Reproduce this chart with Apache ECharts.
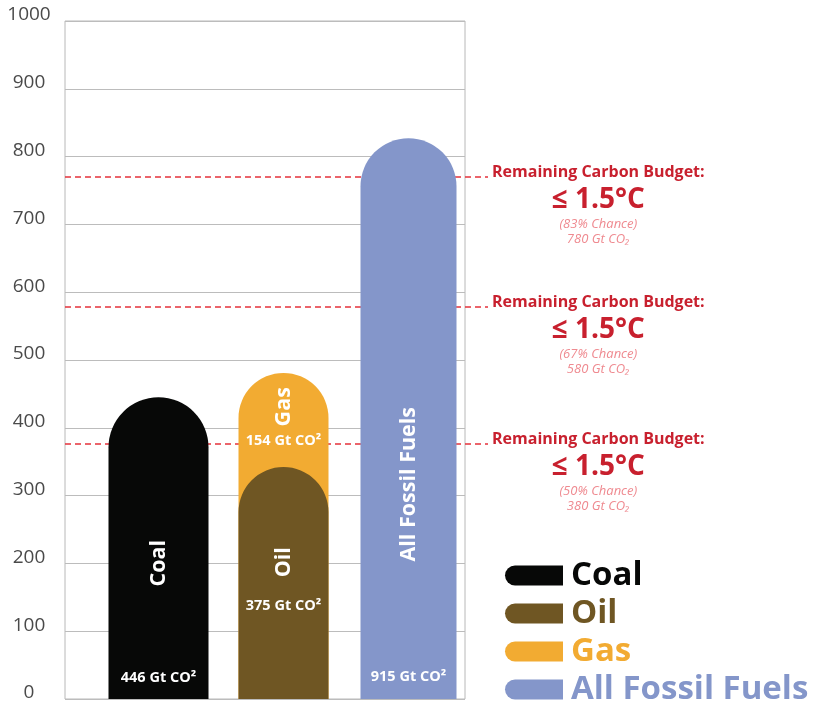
<!DOCTYPE html>
<html><head><meta charset="utf-8">
<script src="https://cdn.jsdelivr.net/npm/echarts@6/dist/echarts.min.js"></script>
<style>html,body{margin:0;padding:0;background:#fff}#c{width:825px;height:702px}</style>
</head><body><div id="c"></div>
<script>
// ---- data ----
const categories = ['Coal', 'Oil & Gas', 'All Fossil Fuels'];
const coalValues = [445, '-', '-'];
const oilValues = ['-', 342, '-'];
const gasValues = ['-', 481, '-'];
const allFossilValues = ['-', '-', 827];
const seriesNames = ['Coal', 'Oil', 'Gas', 'All Fossil Fuels'];
const valueLabels = ['446 Gt CO²', '375 Gt CO²', '154 Gt CO²', '915 Gt CO²']; // coal, oil, gas, all
const budgetLines = [770, 578, 376];
const budgetChance = ['(83% Chance)', '(67% Chance)', '(50% Chance)'];
const budgetAmount = ['780 Gt CO₂', '580 Gt CO₂', '380 Gt CO₂'];
const yMin = 0, yMax = 1000, yStep = 100;

// ---- styles ----
const FONT = '"Open Sans", "Noto Sans", sans-serif';
const C = { coal: '#070807', oil: '#6f5623', gas: '#f2ab32', all: '#8496ca' };
const RED = '#c8202e', RED_LINE = '#e5323b', PINK = '#ef8a90';

function nameLabel(text, posY) {
  return { show: true, formatter: text, rotate: 90, position: ['50%', posY],
    align: 'center', verticalAlign: 'middle', color: '#fff', fontFamily: FONT,
    fontWeight: 'bold', fontSize: 21.5 };
}
function valLabel(text, posY) {
  return { show: true, formatter: text, position: ['50%', posY],
    align: 'center', verticalAlign: 'middle', color: '#fff', fontFamily: FONT,
    fontWeight: 'bold', fontSize: 14.5 };
}
const noEmph = { disabled: true };
const clear = { color: 'rgba(0,0,0,0)' };
const dashStyle = { color: RED_LINE, type: [6, 4], width: 1.5, opacity: 1 };

const chart = echarts.init(document.getElementById('c'), null, { renderer: 'canvas' });
chart.setOption({
  animation: false,
  backgroundColor: '#fff',
  grid: [
    { left: 65, right: 360, top: 21, bottom: 3, show: true, borderColor: '#b8b8b8', borderWidth: 1, outerBoundsMode: 'none', containLabel: false },
    { left: 96, right: 354, top: 21, bottom: 3, outerBoundsMode: 'none', containLabel: false },
    { left: 65, right: 337, top: 21, bottom: 3, outerBoundsMode: 'none', containLabel: false }
  ],
  xAxis: [
    { gridIndex: 0, type: 'category', data: categories, show: false },
    { gridIndex: 1, type: 'category', data: categories, show: false },
    { gridIndex: 1, type: 'category', data: categories, show: false },
    { gridIndex: 1, type: 'category', data: categories, show: false },
    { gridIndex: 2, type: 'value', min: 0, max: 1, show: false }
  ],
  yAxis: [
    { gridIndex: 0, type: 'value', min: yMin, max: yMax, interval: yStep,
      axisLine: { show: false }, axisTick: { show: false },
      splitLine: { lineStyle: { color: '#bcbcbc', width: 1 } },
      axisLabel: { margin: 36, align: 'center', verticalAlign: 'bottom', lineHeight: 12,
        formatter: v => String(v),
        color: '#4a4a4a', fontSize: 19, fontFamily: FONT } },
    { gridIndex: 1, type: 'value', min: yMin, max: yMax, show: false },
    { gridIndex: 2, type: 'value', min: yMin, max: yMax, show: false }
  ],
  legend: {
    orient: 'vertical', left: 500, top: 554, height: 160, itemWidth: 58, itemHeight: 20, itemGap: 5,
    selectedMode: false,
    icon: 'path://M10,0H58V20H10A10,10,0,0,1,10,0Z',
    textStyle: { fontFamily: FONT, fontWeight: 'bold', fontSize: 33, lineHeight: 33, padding: [0, 0, 0, 3] },
    data: [
      { name: seriesNames[0], textStyle: { color: C.coal } },
      { name: seriesNames[1], textStyle: { color: C.oil } },
      { name: seriesNames[2], textStyle: { color: C.gas } },
      { name: seriesNames[3], textStyle: { color: C.all } }
    ]
  },
  series: [
    // budget lines (behind bars)
    { name: 'budget', type: 'line', xAxisIndex: 4, yAxisIndex: 2, data: [], showSymbol: false, z: 1,
      color: RED_LINE, lineStyle: { color: RED_LINE },
      markLine: {
        silent: true, symbol: 'none', animation: false, z: 1,
        lineStyle: dashStyle,
        emphasis: { disabled: true },
        data: budgetLines.map((v, i) => ({
          yAxis: v,
          lineStyle: dashStyle,
          label: {
            show: true, position: 'end', distance: 4, padding: [54, 0, 0, 0],
            formatter: '{t|Remaining Carbon Budget:}\n{b|≤ 1.5°C}\n{s|' + budgetChance[i] + '}\n{s|' + budgetAmount[i] + '}',
            rich: {
              t: { color: RED, fontFamily: FONT, fontWeight: 'bold', fontSize: 16, lineHeight: 22, align: 'center' },
              b: { color: RED, fontFamily: FONT, fontWeight: 'bold', fontSize: 28, lineHeight: 34, align: 'center' },
              s: { color: PINK, fontFamily: FONT, fontStyle: 'italic', fontSize: 13, lineHeight: 15, align: 'center' }
            }
          }
        }))
      }
    },
    { name: seriesNames[0], type: 'bar', xAxisIndex: 1, yAxisIndex: 1, data: coalValues, z: 3,
      barWidth: 100, barGap: '-100%', emphasis: noEmph,
      itemStyle: { color: C.coal, borderRadius: [50, 50, 0, 0] }, label: nameLabel('Coal', '55%') },
    { name: seriesNames[2], type: 'bar', xAxisIndex: 2, yAxisIndex: 1, data: gasValues, z: 3,
      barWidth: 90, barGap: '-100%', emphasis: noEmph,
      itemStyle: { color: C.gas, borderRadius: [45, 45, 0, 0] }, label: nameLabel('Gas', '10.4%') },
    { name: seriesNames[1], type: 'bar', xAxisIndex: 2, yAxisIndex: 1, data: oilValues, z: 3,
      barWidth: 90, barGap: '-100%', emphasis: noEmph,
      itemStyle: { color: C.oil, borderRadius: [45, 45, 0, 0] }, label: nameLabel('Oil', '41%') },
    { name: seriesNames[3], type: 'bar', xAxisIndex: 3, yAxisIndex: 1, data: allFossilValues, z: 3,
      barWidth: 96, barGap: '-100%', emphasis: noEmph,
      itemStyle: { color: C.all, borderRadius: [48, 48, 0, 0] }, label: nameLabel('All Fossil Fuels', '61.7%') },
    // value labels (transparent overlays)
    { name: 'coal-val', type: 'bar', xAxisIndex: 1, yAxisIndex: 1, data: coalValues, barWidth: 100, barGap: '-100%', z: 4,
      emphasis: noEmph, itemStyle: clear, label: valLabel(valueLabels[0], '93%') },
    { name: 'gas-val', type: 'bar', xAxisIndex: 2, yAxisIndex: 1, data: gasValues, barWidth: 90, barGap: '-100%', z: 4,
      emphasis: noEmph, itemStyle: clear, label: valLabel(valueLabels[2], '21%') },
    { name: 'oil-val', type: 'bar', xAxisIndex: 2, yAxisIndex: 1, data: oilValues, barWidth: 90, barGap: '-100%', z: 4,
      emphasis: noEmph, itemStyle: clear, label: valLabel(valueLabels[1], '60%') },
    { name: 'all-val', type: 'bar', xAxisIndex: 3, yAxisIndex: 1, data: allFossilValues, barWidth: 96, barGap: '-100%', z: 4,
      emphasis: noEmph, itemStyle: clear, label: valLabel(valueLabels[3], '96%') }
  ]
});
</script></body></html>
